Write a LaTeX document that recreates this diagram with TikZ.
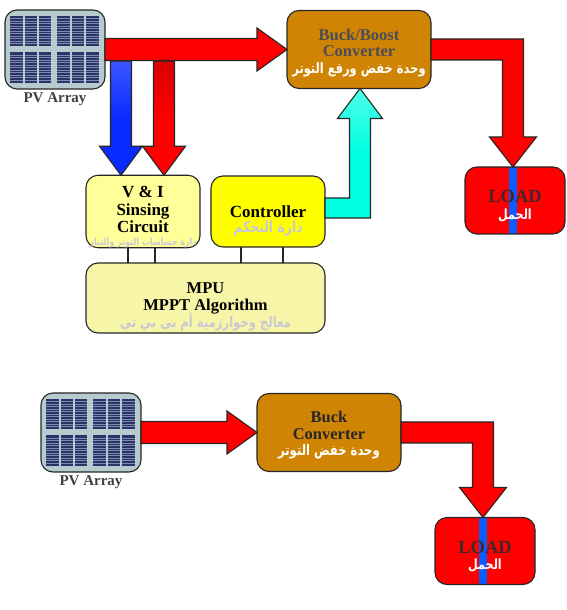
\documentclass[tikz,border=0pt]{standalone}
\usepackage{fontspec}
\setmainfont{Liberation Serif}
\newfontfamily\arabicfont[Script=Arabic,FakeStretch=0.8]{DejaVu Sans}
\TeXXeTstate=1
\usepackage{xcolor}
\usetikzlibrary{positioning, calc}
\definecolor{panelbg}{HTML}{B7CACE}
\definecolor{cellblue}{HTML}{2A3468}
\definecolor{cellline}{HTML}{7F8BAE}
\definecolor{buckfill}{HTML}{CF8503}
\definecolor{palefill}{HTML}{FFFF99}
\definecolor{ctrlfill}{HTML}{FFFF00}
\definecolor{mpufill}{HTML}{F7F5A8}
\definecolor{paletext}{HTML}{C9C9D6}
\definecolor{greytext}{HTML}{4C4C58}
\definecolor{loadtext}{HTML}{40282A}
\definecolor{stripblue}{HTML}{0A5CFF}
\definecolor{flowblue}{HTML}{0A2BFF}
\definecolor{flowcyan}{HTML}{00FFE0}
\newcommand{\arsize}[1]{\fontsize{#1}{#1}\arabicfont\bfseries}
\newcommand{\toppad}[1]{\rule{0pt}{#1pt}}
\tikzset{block/.style={draw=black!85, line width=1.1pt, rounded corners=12pt, inner sep=0pt, outer sep=0pt, align=center, font=\bfseries\fontsize{16.5}{16.5}\selectfont},
conv/.style={block, fill=buckfill, minimum width=144pt, minimum height=78pt},
sense/.style={block, minimum width=114pt, minimum height=71pt, font=\bfseries\fontsize{17}{17}\selectfont},
loadbox/.style={block, fill=red, minimum width=100pt, minimum height=67pt,
  path picture={\fill[stripblue, sharp corners] ([xshift=-6pt]path picture bounding box.north) rectangle ([xshift=2pt]path picture bounding box.south);}},
pvbox/.style={block, fill=panelbg, minimum width=100pt, minimum height=79pt,
  path picture={\begin{scope}[shift={(path picture bounding box.center)}, sharp corners]
    \foreach \cx in {-45,-30.5,-16.5,2,16.5,31}
      \foreach \cy in {33.5,-3}{
        \fill[cellblue] (\cx,\cy) rectangle (\cx+12.5,\cy-30.5);
        \foreach \k in {2.5,5,...,28}
          \draw[cellline, line width=0.3pt] (\cx,\cy-\k) -- (\cx+12.5,\cy-\k);
      }
  \end{scope}}},
pvlabel/.style={inner sep=0pt, text=black!75, font=\bfseries\fontsize{15}{16}\selectfont},
flow/.style={draw=black!85, line width=1.1pt, line join=miter},
harrow/.style={flow, to path={let \p1=(\tikztostart), \p2=(\tikztotarget) in
  (\x1,\y1+11pt) -- (\x2-30pt,\y1+11pt) -- (\x2-30pt,\y1+21.5pt) -- (\x2,\y1) -- (\x2-30pt,\y1-21.5pt) -- (\x2-30pt,\y1-11pt) -- (\x1,\y1-11pt) -- cycle}},
varrow/.style={flow, to path={let \p1=(\tikztostart), \p2=(\tikztotarget) in
  (\x2-10.5pt,\y1) -- (\x2+10.5pt,\y1) -- (\x2+10.5pt,\y2+29pt) -- (\x2+21.5pt,\y2+29pt) -- (\x2,\y2) -- (\x2-21.5pt,\y2+29pt) -- (\x2-10.5pt,\y2+29pt) -- cycle}},
downelbow/.style={flow, fill=red, to path={let \p1=(\tikztostart), \p2=(\tikztotarget) in
  (\x1,\y1+10.5pt) -- (\x2+10.5pt,\y1+10.5pt) -- (\x2+10.5pt,\y2+30pt) -- (\x2+23.5pt,\y2+30pt) -- (\x2,\y2) -- (\x2-23.5pt,\y2+30pt) -- (\x2-10.5pt,\y2+30pt) -- (\x2-10.5pt,\y1-10.5pt) -- (\x1,\y1-10.5pt) -- cycle}},
upelbow/.style={flow, to path={let \p1=(\tikztostart), \p2=(\tikztotarget) in
  (\x1,\y1+10pt) -- (\x2-10.5pt,\y1+10pt) -- (\x2-10.5pt,\y2-30pt) -- (\x2-22.5pt,\y2-30pt) -- (\x2,\y2) -- (\x2+22.5pt,\y2-30pt) -- (\x2+10.5pt,\y2-30pt) -- (\x2+10.5pt,\y1-10pt) -- (\x1,\y1-10pt) -- cycle}},
wire/.style={draw=black!85, line width=1.3pt}
}
\begin{document}
\begin{tikzpicture}[x=1pt,y=1pt]
\useasboundingbox (0,0) rectangle (567,610);
% upper circuit
\node[pvbox] (pva) at (55,560.5) {};
\node[pvlabel, below=3pt of pva] (pvatext) {PV Array};
\node[conv, right=182pt of pva, text=greytext] (boost) {\toppad{18}Buck/Boost\\Converter\\\textcolor{white}{\arsize{14.3}\beginR وحدة خفض ورفع التوتر\endR}};
\node[loadbox] (load) at (515,409.5) {\toppad{24}\textcolor{loadtext}{\fontsize{18.5}{20}\selectfont LOAD}\\\textcolor{white}{\arsize{14}\beginR الحمل\endR}};
\node[sense, fill=palefill] (vi) at (143,398.5) {\toppad{22}V \& I\\[1pt]Sinsing\\Circuit\\[-4pt]\textcolor{paletext}{\arsize{10}\beginR دارة حساسات التوتر والتيار\endR}};
\node[sense, fill=ctrlfill, right=11pt of vi] (ctrl) {\toppad{31}Controller\\[-2pt]\textcolor{paletext}{\arsize{15.5}\beginR دارة التحكم\endR}};
\node[block, fill=mpufill, minimum width=239pt, minimum height=70pt] (mpu) at (205.5,312) {\toppad{29}MPU\\MPPT Algorithm\\[-2pt]\textcolor{paletext}{\arsize{14.5}\beginR معالج وخوارزمية أم بي بي تي\endR}};
% taps of the main flow
\coordinate (tapv) at (121,549);
\coordinate (tapi) at (164.5,549);
\draw[varrow, top color=flowblue!80!white, bottom color=flowblue, middle color=flowblue] (tapv) to ([xshift=-22pt]vi.north);
\draw[varrow, top color=red!85!black, bottom color=red, middle color=red] (tapi) to ([xshift=21pt]vi.north);
\draw[harrow, fill=red] (pva.east) to (boost.west);
\draw[downelbow] (boost.east) to ([xshift=-2pt]load.north);
\draw[upelbow, top color=flowcyan!70!white, bottom color=flowcyan, middle color=flowcyan] ([yshift=3.5pt]ctrl.east) to ([xshift=1pt]boost.south);
\draw[wire] ([xshift=-15pt]vi.south) -- ([xshift=-15pt]vi.south |- mpu.north);
\draw[wire] ([xshift=12pt]vi.south) -- ([xshift=12pt]vi.south |- mpu.north);
\draw[wire] ([xshift=-27pt]ctrl.south) -- ([xshift=-27pt]ctrl.south |- mpu.north);
\draw[wire] ([xshift=15pt]ctrl.south) -- ([xshift=15pt]ctrl.south |- mpu.north);
% lower circuit
\node[pvbox] (pvb) at (91,177.5) {};
\node[pvlabel, below=3pt of pvb] (pvbtext) {PV Array};
\node[conv, right=116pt of pvb, text=black!85] (buck) {\toppad{17}Buck\\Converter\\\textcolor{white}{\arsize{14.5}\beginR وحدة خفض التوتر\endR}};
\node[loadbox] (loadb) at (485,59) {\toppad{24}\textcolor{loadtext}{\fontsize{18.5}{20}\selectfont LOAD}\\\textcolor{white}{\arsize{14}\beginR الحمل\endR}};
\draw[harrow, fill=red] (pvb.east) to (buck.west);
\draw[downelbow] (buck.east) to ([xshift=-2pt]loadb.north);
\end{tikzpicture}
\end{document}
